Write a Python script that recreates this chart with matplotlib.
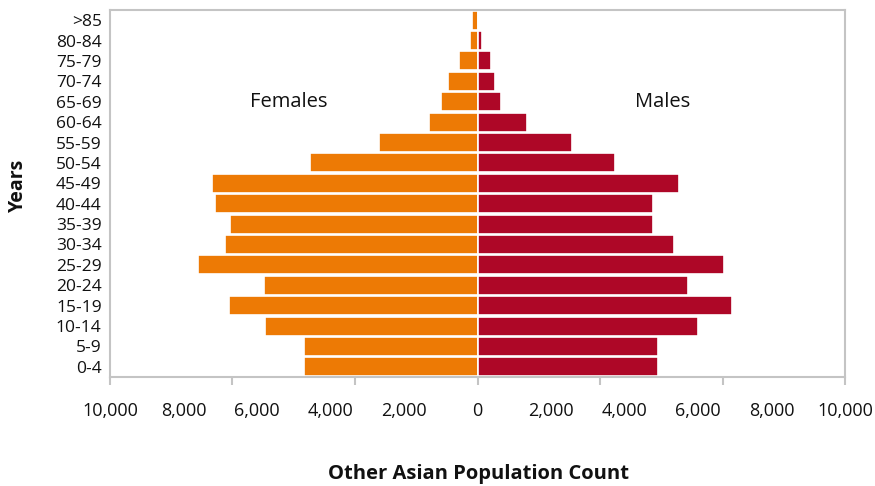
import matplotlib
matplotlib.use("Agg")
import matplotlib.pyplot as plt
import numpy as np

plt.rcParams['font.family'] = ['Open Sans', 'DejaVu Sans']

# Age groups, youngest first (bottom of the pyramid)
age_groups = ["0-4", "5-9", "10-14", "15-19", "20-24", "25-29", "30-34", "35-39",
              "40-44", "45-49", "50-54", "55-59", "60-64", "65-69", "70-74",
              "75-79", "80-84", ">85"]
females = [4725, 4725, 5770, 6775, 5815, 7610, 6870, 6740, 7130, 7220,
           4550, 2680, 1325, 980, 800, 500, 200, 145]
males = [4905, 4905, 6005, 6915, 5735, 6700, 5340, 4780, 4780, 5480,
         3735, 2560, 1335, 640, 465, 380, 120, 50]

label_values = list(range(-10000, 10001, 2000))
tick_values = [-10000, -10000 * 2 / 3, -10000 / 3, 0, 10000 / 3, 10000 * 2 / 3, 10000]

orange = "#ED7A05"
red = "#AE0727"
frame = "#c4c4c4"

fig = plt.figure(figsize=(8.75, 4.86), dpi=100)
ax = fig.add_axes([110 / 875, 1 - 377 / 486, 735 / 875, 367 / 486])

y = np.arange(len(age_groups))
ax.barh(y, -np.array(females), height=0.93, color=orange, edgecolor="white", linewidth=1.2)
ax.barh(y, males, height=0.93, color=red, edgecolor="white", linewidth=1.2)

ax.set_xlim(-10000, 10000)
ax.set_ylim(-0.5, len(age_groups) - 0.5)

# tick marks every third of the axis, labels every 2,000
ax.xaxis.remove_overlapping_locs = False
ax.set_xticks(tick_values)
ax.set_xticklabels([])
ax.set_xticks(label_values, minor=True)
ax.set_xticklabels([f"{abs(v):,}" for v in label_values], minor=True)
ax.tick_params(axis="x", which="major", direction="out", length=6, width=1.5, color=frame)
ax.tick_params(axis="x", which="minor", length=0, pad=18, labelsize=13, labelcolor="#111111")

ax.set_yticks(y)
ax.set_yticklabels(age_groups)
ax.tick_params(axis="y", length=0, pad=6, labelsize=12.5, labelcolor="#111111")

for side in ["left", "right", "top", "bottom"]:
    ax.spines[side].set_color(frame)
    ax.spines[side].set_linewidth(1.5)

ax.text(-5130, 13, "Females", ha="center", va="center", fontsize=14.5, color="#111111")
ax.text(5030, 13, "Males", ha="center", va="center", fontsize=14.5, color="#111111")

fig.text(18 / 875, 1 - 185 / 486, "Years", rotation=90, ha="center", va="center",
         fontsize=14, fontweight="bold", color="#111111")
fig.text(479 / 875, 1 - 474 / 486, "Other Asian Population Count", ha="center", va="center",
         fontsize=14.5, fontweight="bold", color="#111111")

fig.savefig("out.png", dpi=100)
